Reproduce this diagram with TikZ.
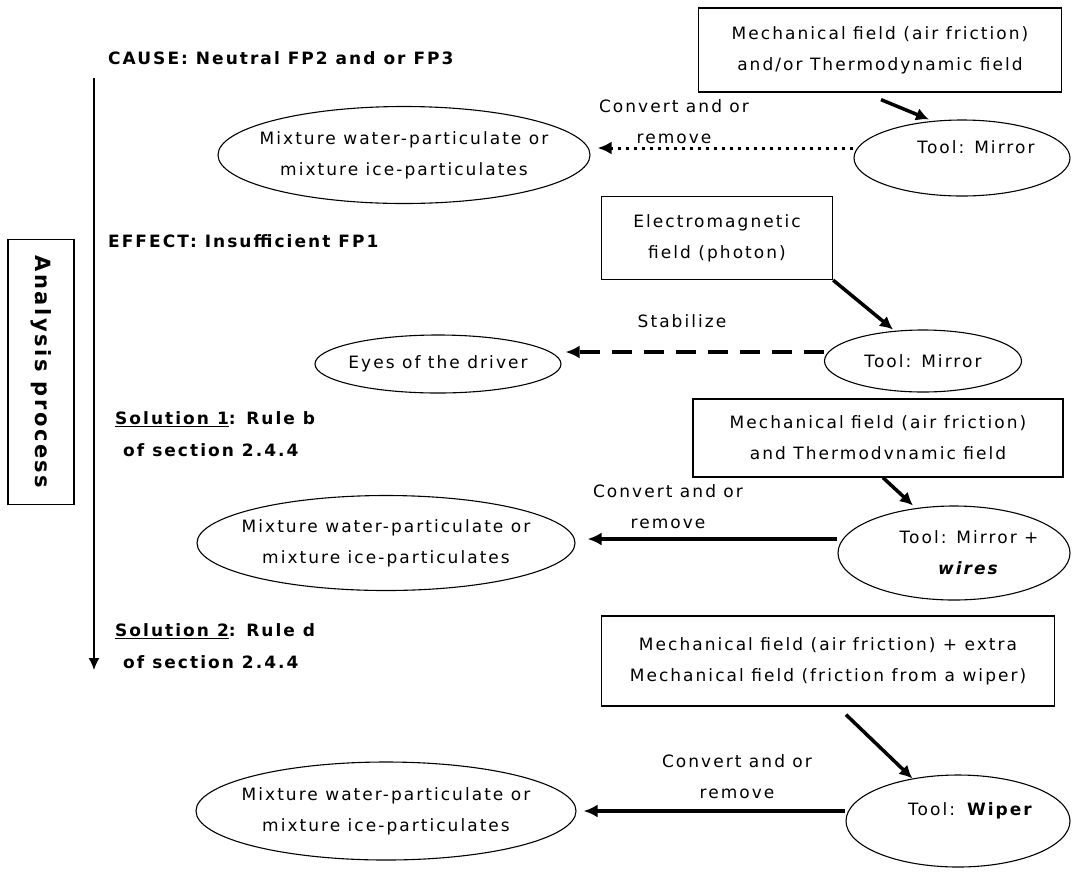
\documentclass[tikz,border=0pt]{standalone}
\usepackage{fontspec}
\setmainfont[LetterSpace=12]{DejaVu Sans}
\usetikzlibrary{shapes.geometric,arrows.meta}

\tikzset{
  fieldbox/.style={draw, line width=1.3pt, align=center, inner sep=0pt,
    font=\fontsize{17}{31}\selectfont},
  ellnode/.style={draw, ellipse, line width=1.1pt, align=center, inner xsep=-25pt,
    inner ysep=0pt, font=\fontsize{17}{31}\selectfont},
  steplabel/.style={anchor=west, align=left, inner sep=0pt,
    font=\fontsize{17}{32}\selectfont\bfseries},
  actlabel/.style={align=center, inner sep=0pt,
    font=\fontsize{17}{31}\selectfont},
  fieldarrow/.style={line width=3.5pt, -{Latex[length=13pt,width=13pt]}},
  actarrow/.style={line width=3.5pt, -{Latex[length=14pt,width=13pt]}},
}

\begin{document}
\begin{tikzpicture}[x=1pt, y=-1pt]
  \useasboundingbox (0,0) rectangle (1073,871);

  % process axis
  \node[draw, line width=1.3pt, rotate=-90, minimum width=265pt, minimum height=66pt,
    font=\fontsize{21}{24}\selectfont\bfseries] (proc) at (41,372) {Analysis process};
  \coordinate (axtop) at (94,78);
  \coordinate (axbot) at (94,670);
  \draw[line width=1.5pt, -{Latex[length=12pt,width=11pt]}] (axtop) -- (axbot);

  \node[steplabel] (cause) at (108,58) {CAUSE: Neutral FP2 and or FP3};
  \node[steplabel] (effect) at (108,241) {EFFECT: Insufficient FP1};
  \node[steplabel] (sol1) at (115,434) {\underline{Solution 1}: Rule b\\\hspace*{8pt}of section 2.4.4};
  \node[steplabel] (sol2) at (115,646) {\underline{Solution 2}: Rule d\\\hspace*{8pt}of section 2.4.4};

  % cause
  \node[fieldbox, minimum width=363pt, minimum height=84pt] (field1) at (880,50)
    {Mechanical field (air friction)\\and/or Thermodynamic field};
  \node[ellnode, minimum width=216pt, minimum height=76pt, text depth=22pt] (tool1) at (962,158)
    {\hspace*{28pt}Tool: Mirror};
  \node[ellnode, minimum width=372pt, minimum height=97pt] (mix1) at (404,155)
    {Mixture water-particulate or\\mixture ice-particulates};
  \draw[fieldarrow] ([xshift=1pt,yshift=-7pt]field1.south) -- ([xshift=-33pt]tool1.north);
  \draw[actarrow, line width=3pt, dash pattern=on 3pt off 5pt] ([yshift=10pt]tool1.west) -- ([xshift=7pt,yshift=7pt]mix1.east);
  \node[actlabel] (act1) at (674,122) {Convert and or\\remove};

  % effect
  \node[fieldbox, minimum width=231pt, minimum height=83pt] (field2) at (717,238)
    {Electromagnetic\\field (photon)};
  \node[ellnode, minimum width=197pt, minimum height=62pt] (tool2) at (923,361) {Tool: Mirror};
  \node[ellnode, minimum width=246pt, minimum height=58pt] (eyes) at (438,364) {Eyes of the driver};
  \draw[fieldarrow] (field2.south east) -- ([xshift=-30pt]tool2.north);
  \draw[actarrow, line width=4pt, dash pattern=on 20pt off 12pt] ([yshift=9pt]tool2.west) -- ([xshift=4pt,yshift=12pt]eyes.east);
  \node[actlabel] (act2) at (682,321) {Stabilize};

  % solution 1
  \node[fieldbox, minimum width=370pt, minimum height=78pt] (field3) at (878,438)
    {Mechanical field (air friction)\\and Thermodvnamic field};
  \node[ellnode, minimum width=232pt, minimum height=94pt] (tool3) at (954,553)
    {\hspace*{30pt}Tool: Mirror +\\\hspace*{30pt}\textbf{\textit{wires}}};
  \node[ellnode, minimum width=378pt, minimum height=95pt] (mix2) at (386,543)
    {Mixture water-particulate or\\mixture ice-particulates};
  \draw[fieldarrow] ([xshift=5pt]field3.south) -- ([xshift=-41pt]tool3.north);
  \draw[actarrow] ([yshift=14pt]tool3.west) -- ([xshift=12pt,yshift=4pt]mix2.east);
  \node[actlabel] (act3) at (668,507) {Convert and or\\remove};

  % solution 2
  \node[fieldbox, minimum width=453pt, minimum height=90pt] (field4) at (828,661)
    {Mechanical field (air friction) + extra\\Mechanical field (friction from a wiper)};
  \node[ellnode, minimum width=224pt, minimum height=92pt, text depth=24pt] (tool4) at (958,821)
    {\hspace*{26pt}Tool: \textbf{Wiper}};
  \node[ellnode, minimum width=380pt, minimum height=98pt] (mix3) at (386,811)
    {Mixture water-particulate or\\mixture ice-particulates};
  \draw[fieldarrow] ([xshift=18pt,yshift=-8pt]field4.south) -- (tool4.137);
  \draw[actarrow] ([yshift=10pt]tool4.west) -- ([xshift=7pt]mix3.east);
  \node[actlabel] (act4) at (737,777) {Convert and or\\remove};

\end{tikzpicture}
\end{document}
